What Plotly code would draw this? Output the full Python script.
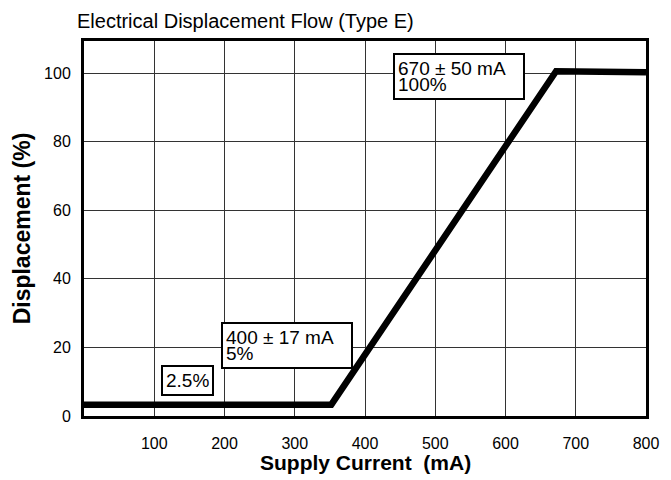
import plotly.graph_objects as go

# curve
current_ma = [0, 352, 672, 800]
displacement_pct = [3.3, 3.3, 100.6, 100.3]

x_ticks = [100, 200, 300, 400, 500, 600, 700, 800]
y_ticks = [0, 20, 40, 60, 80, 100]

# callout boxes: left edge (mA), top edge (%), lines of text
callout_x = [440, 195, 109]
callout_y = [105.9, 27.4, 14.9]
callout_lines = [["670 ± 50 mA", "100%"], ["400 ± 17 mA", "5%"], ["2.5%"]]

FONT = "Liberation Sans, Arial, sans-serif"
# page body has an 8px margin, so the figure is sized to fit inside it
W, H = 663, 472

fig = go.Figure()
fig.add_trace(go.Scatter(
    x=current_ma, y=displacement_pct, mode="lines",
    line=dict(color="black", width=6.5), hoverinfo="skip", showlegend=False
))

for cx, cy, lines in zip(callout_x, callout_y, callout_lines):
    # small base font keeps the <br> pitch tight, spans carry the real size
    txt = "<br>".join(f'<span style="font-size:19px">{t}</span>' for t in lines)
    multi = len(lines) > 1
    fig.add_annotation(
        x=cx, y=cy, xanchor="left", yanchor="top", text=txt, showarrow=False,
        align="left", width=122 if multi else None,
        font=dict(family=FONT, size=12.5 if multi else 19, color="black"),
        bgcolor="white", bordercolor="black", borderwidth=2, borderpad=3
    )

# x-axis title placed as paper annotation
fig.add_annotation(
    x=0.5, y=-(462 - 416) / 375, xref="paper", yref="paper",
    xanchor="center", yanchor="middle", showarrow=False,
    text="<b>Supply Current  (mA)</b>", font=dict(family=FONT, size=21, color="black")
)

fig.update_layout(
    width=W, height=H,
    margin=dict(l=69, r=19, t=33, b=64),
    paper_bgcolor="white", plot_bgcolor="white",
    font=dict(family=FONT, color="black"),
    title=dict(text="Electrical Displacement Flow (Type E)", x=69 / W, xref="container",
               xanchor="left", y=1 - 13 / H, yref="container", yanchor="middle",
               font=dict(size=20, family=FONT, color="black")),
    xaxis=dict(range=[0, 800], tickvals=x_ticks, ticks="", ticklabelstandoff=11,
               showgrid=True, gridcolor="#333", gridwidth=1, zeroline=False,
               showline=True, linecolor="black", linewidth=3, mirror=True,
               tickfont=dict(size=16)),
    yaxis=dict(range=[0, 109.4], tickvals=y_ticks, ticks="", ticklabelstandoff=7,
               showgrid=True, gridcolor="#333", gridwidth=1, zeroline=False,
               showline=True, linecolor="black", linewidth=3, mirror=True,
               tickfont=dict(size=16),
               title=dict(text="<b>Displacement (%)</b>", font=dict(size=23), standoff=8)),
)

fig.write_html("out.html")
